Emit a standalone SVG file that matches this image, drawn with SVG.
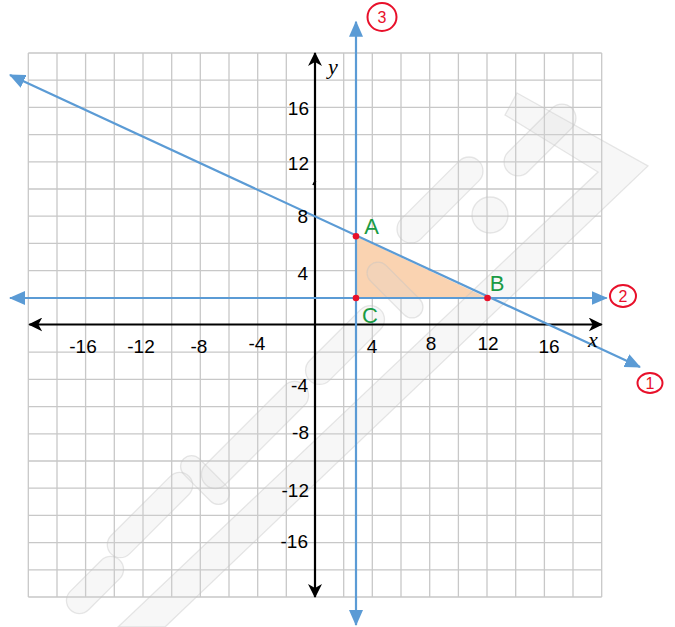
<svg xmlns="http://www.w3.org/2000/svg" width="675" height="627" viewBox="0 0 675 627">
<style>
.grid{stroke:#c8c8c8;stroke-width:1.3;fill:none}
.blue{stroke:#5b9bd5;stroke-width:2.2;fill:none}
.axis{stroke:#000;stroke-width:2.2;fill:none}
.num{font-family:"Liberation Sans",Arial,sans-serif;font-size:19px;fill:#000}
.var{font-family:"Liberation Serif","Times New Roman",serif;font-style:italic;font-size:22px;fill:#000}
.pt{font-family:"Liberation Sans",Arial,sans-serif;font-size:22px;fill:#1a9a44}
.circ{fill:none;stroke:#e8102a;stroke-width:2}
.cnum{font-family:"Liberation Sans",Arial,sans-serif;font-size:16px;fill:#e8102a;text-anchor:middle}
.dot{fill:#e8102a}
.wm{fill:#d8d8d8;fill-opacity:0.2;stroke:#c4c4c4;stroke-opacity:0.4;stroke-width:1.3}
</style>
<defs>
<marker id="ab" viewBox="0 0 16 14" refX="15" refY="7" markerWidth="16" markerHeight="14" markerUnits="userSpaceOnUse" orient="auto-start-reverse">
<path d="M0,0 L16,7 L0,14 z" fill="#5b9bd5"/>
</marker>
<marker id="ak" viewBox="0 0 14 14" refX="13" refY="7" markerWidth="14" markerHeight="14" markerUnits="userSpaceOnUse" orient="auto-start-reverse">
<path d="M0,0 L14,7 L0,14 L4,7 z" fill="#000"/>
</marker>
</defs>
<rect width="675" height="627" fill="#fff"/>
<g id="grid">
<path class="grid" d="M28.3,53V597M57,53V597M85.6,53V597M114.3,53V597M143,53V597M171.7,53V597M200.3,53V597M229,53V597M257.7,53V597M286.3,53V597M343.7,53V597M372.3,53V597M401,53V597M429.7,53V597M458.4,53V597M487,53V597M515.7,53V597M544.4,53V597M573,53V597M601.7,53V597"/>
<path class="grid" d="M28.3,53H601.7M28.3,80.2H601.7M28.3,107.4H601.7M28.3,134.6H601.7M28.3,161.8H601.7M28.3,189H601.7M28.3,216.2H601.7M28.3,243.4H601.7M28.3,270.6H601.7M28.3,297.8H601.7M28.3,352.2H601.7M28.3,379.4H601.7M28.3,406.6H601.7M28.3,433.8H601.7M28.3,461H601.7M28.3,488.2H601.7M28.3,515.4H601.7M28.3,542.6H601.7M28.3,569.8H601.7M28.3,597H601.7"/>
</g>
<g id="region">
<polygon points="356,298 356,236.3 487.5,298" fill="#fad3b1"/>
</g>
<g id="watermark">
<polygon class="wm" points="517,93 648,166 165,627 118,627 598,172 505,115"/>
<rect class="wm" x="-35" y="-13" width="70" height="26" rx="13" transform="translate(95,585) rotate(-45)"/>
<rect class="wm" x="-55" y="-13" width="110" height="26" rx="13" transform="translate(150,515) rotate(-45)"/>
<rect class="wm" x="-30" y="-11" width="60" height="22" rx="11" transform="translate(205,480) rotate(45)"/>
<rect class="wm" x="-70" y="-14" width="140" height="28" rx="14" transform="translate(255,435) rotate(-45)"/>
<rect class="wm" x="-50" y="-14" width="100" height="28" rx="14" transform="translate(345,345) rotate(-45)"/>
<rect class="wm" x="-35" y="-11" width="70" height="22" rx="11" transform="translate(395,290) rotate(45)"/>
<rect class="wm" x="-55" y="-14" width="110" height="28" rx="14" transform="translate(440,200) rotate(-45)"/>
<circle class="wm" cx="490" cy="215" r="18"/>
<rect class="wm" x="-45" y="-14" width="90" height="28" rx="14" transform="translate(540,140) rotate(-45)"/>
</g>
<g id="connectors">
<line class="axis" x1="29.3" y1="324.5" x2="601.7" y2="324.5" marker-start="url(#ak)" marker-end="url(#ak)"/>
<line class="axis" x1="315" y1="597" x2="315" y2="53" marker-start="url(#ak)" marker-end="url(#ak)"/>
<path d="M313,185 q1,-3 3,-4" stroke="#000" stroke-width="1.5" fill="none"/>
<line class="blue" x1="10" y1="75" x2="640" y2="367" marker-start="url(#ab)" marker-end="url(#ab)"/>
<line class="blue" x1="10" y1="298" x2="606.7" y2="298" marker-start="url(#ab)" marker-end="url(#ab)"/>
<line class="blue" x1="356" y1="625" x2="356" y2="21.7" marker-start="url(#ab)" marker-end="url(#ab)"/>
</g>
<g id="axis-labels">
<text class="var" x="333" y="74" text-anchor="middle">y</text>
<text class="var" x="593" y="347" text-anchor="middle">x</text>
<g class="num" text-anchor="end">
<text x="309" y="115">16</text>
<text x="309" y="170">12</text>
<text x="308" y="223">8</text>
<text x="308" y="280">4</text>
<text x="308" y="392">-4</text>
<text x="309" y="439">-8</text>
<text x="309" y="497">-12</text>
<text x="308" y="548">-16</text>
</g>
<g class="num" text-anchor="middle">
<text x="83" y="353">-16</text>
<text x="141" y="353">-12</text>
<text x="199" y="353">-8</text>
<text x="257" y="350">-4</text>
<text x="372" y="353">4</text>
<text x="431" y="350">8</text>
<text x="488" y="350">12</text>
<text x="549" y="353">16</text>
</g>
</g>
<g id="pointA"><circle class="dot" cx="356" cy="236.3" r="3.3"/><text class="pt" x="371.5" y="234" text-anchor="middle">A</text></g>
<g id="pointB"><circle class="dot" cx="487.5" cy="298" r="3.3"/><text class="pt" x="497" y="291" text-anchor="middle">B</text></g>
<g id="pointC"><circle class="dot" cx="356" cy="298" r="3.3"/><text class="pt" x="370" y="323" text-anchor="middle">C</text></g>
<g id="label3"><ellipse class="circ" cx="382" cy="17" rx="14.5" ry="14"/><text class="cnum" x="382" y="23">3</text></g>
<g id="label2"><ellipse class="circ" cx="623" cy="296" rx="13" ry="11"/><text class="cnum" x="623" y="302">2</text></g>
<g id="label1"><ellipse class="circ" cx="650" cy="383" rx="12.5" ry="10"/><text class="cnum" x="650" y="389">1</text></g>
</svg>
